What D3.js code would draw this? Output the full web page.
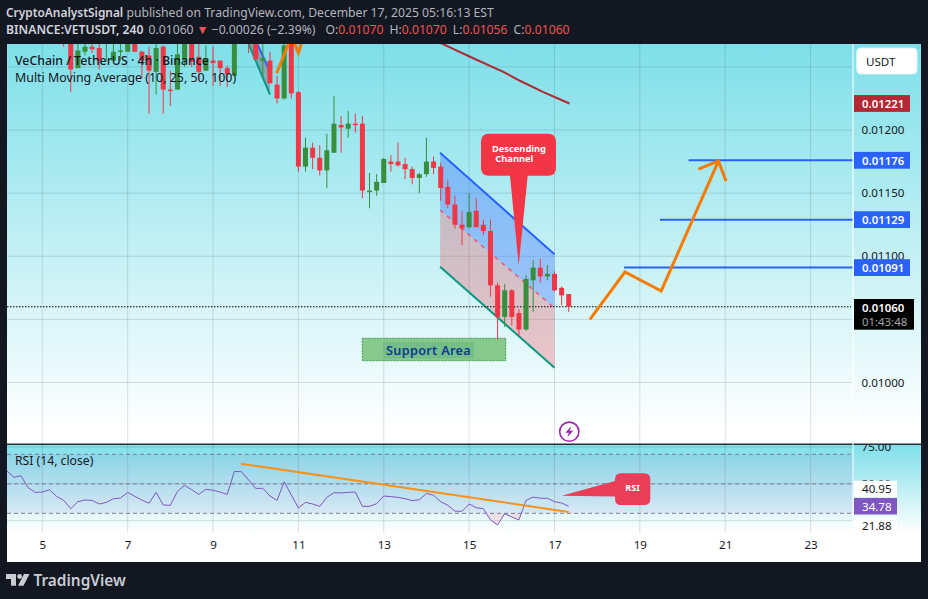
<!DOCTYPE html>
<html>
<head>
<meta charset="utf-8">
<script src="https://cdn.jsdelivr.net/npm/d3@7"></script>
<style>
  html, body { margin: 0; padding: 0; background: #131722; overflow: hidden; }
  svg { display: block; }
  text { font-family: "Noto Sans", sans-serif; }
</style>
</head>
<body>
<div id="chart"></div>
<script>
// prices are kept in ticks of 0.00001 USDT, one value per 4h candle, first candle = day 5.5
var firstDay = 5.5;
var opens = [1285,1280,1249,1262,1266,1265,1270,1255,1262,1262,1275,1262,1259,1246,1266,1232,1232,1255,1275,1258,1247,1255,1255,1249,1243,1285,1290,1272,1255,1255,1236,1225,1272,1230,1171,1186,1178,1168,1182,1204,1201,1205,1205,1151,1152,1158,1175,1175,1173,1169,1162,1165,1175,1171,1155,1141,1125,1123,1136,1125,1120,1077,1052,1073,1055,1042,1081,1091,1084,1086,1075,1070];
var highs = [1290,1290,1275,1275,1272,1272,1285,1272,1272,1280,1280,1263,1266,1270,1267,1247,1272,1280,1280,1272,1267,1266,1255,1251,1280,1295,1300,1285,1270,1262,1243,1270,1280,1231,1194,1190,1188,1197,1227,1211,1215,1213,1211,1166,1165,1178,1180,1190,1178,1171,1166,1194,1179,1174,1160,1148,1136,1150,1146,1129,1129,1079,1078,1074,1058,1085,1097,1098,1093,1088,1076,1070];
var lows = [1266,1230,1249,1259,1261,1248,1255,1255,1255,1262,1262,1241,1213,1228,1213,1219,1232,1250,1250,1239,1247,1235,1235,1234,1243,1272,1261,1256,1242,1237,1221,1224,1225,1167,1167,1169,1164,1154,1182,1182,1194,1198,1146,1138,1148,1158,1167,1171,1161,1157,1150,1163,1165,1144,1138,1122,1109,1122,1123,1117,1068,1034,1044,1045,1037,1041,1056,1079,1081,1072,1061,1056];
var closes = [1275,1248,1263,1266,1264,1255,1280,1262,1263,1275,1262,1255,1247,1265,1232,1231,1260,1275,1254,1246,1257,1253,1249,1244,1275,1290,1272,1256,1257,1237,1225,1267,1229,1171,1186,1178,1168,1184,1205,1202,1205,1204,1152,1152,1159,1177,1173,1172,1169,1162,1165,1175,1170,1154,1141,1125,1122,1135,1123,1120,1077,1052,1073,1052,1042,1082,1091,1084,1086,1073,1069,1060];

// RSI, one value per candle, first value = day 4.17
var rsiFirstDay = 17 - 77 / 6;
var rsiValues = [58.9,54.4,55.5,47.4,44.2,44.4,46.0,41.5,38.8,33.1,37.9,39.0,38.8,36.3,37.4,39.9,40.4,44.2,41.5,39.0,36.8,44.2,35.6,35.4,44.9,48.9,46.0,42.8,46.3,45.6,44.4,42.8,58.4,58.2,52.6,46.9,46.9,41.7,38.8,51.4,42.4,33.6,37.4,36.3,34.7,40.8,44.0,43.8,44.2,44.4,34.7,34.7,36.5,41.7,41.3,40.8,39.9,38.6,39.2,43.5,42.2,37.9,35.4,31.5,31.3,36.3,33.8,33.1,25.5,22.1,29.7,27.5,25.5,38.8,41.0,40.2,40.2,37.9,37.0,34.78];

// moving average and drawings as [day, price tick]
var maLine = [[14.08,1273],[14.39,1268],[15.02,1258],[15.8,1246],[16.19,1239],[16.74,1230],[17.35,1221]];
var channelUpper = [[14.32,1182],[17.0,1101.5]];
var channelMiddle = [[14.32,1136.6],[17.0,1059]];
var channelLower = [[14.32,1091.7],[17.0,1011.7]];
var oldChannelLower = [[9.8,1271],[10.335,1228]];
var oldChannelUpper = [[10.0,1271],[10.335,1246]];
var oldOrange = [[10.49,1245],[10.8,1271]];
var oldOrangeTail = [[10.88,1271],[11.0,1261],[11.09,1271]];
var forecastPath = [[17.83,1050],[18.65,1087.5],[19.5,1072.5],[20.84,1175.4]];
var forecastHead = [[20.37,1169],[20.84,1175.4],[21.02,1159.5]];
var targets = [[20.14,1176],[19.47,1129],[18.63,1091]];
var rsiTrend = [[9.65,63.65],[17.33,30.9]];

var dayTicks = [5,7,9,11,13,15,17,19,21,23];
var priceTicks = [1000,1050,1100,1150,1200,1250];
var priceLabelTicks = [1000,1100,1150,1200];
var rsiTicks = [25,50,75];
var rsiBands = [30,50,70];
var lastPrice = 1060;

var width = 928, height = 599;
var paneLeft = 7, axisLeft = 853, paneRight = 921, mainTop = 44, mainBottom = 444.3, paneBottom = 562, gridBottom = 533;

var x = d3.scaleLinear().domain([5,23]).range([42.3,810.6]);
var y = d3.scaleLinear().domain([1000,1200]).range([382.5,130]);
var yRsi = d3.scaleLinear().domain([30,70]).range([513.3,454.3]);
var fmt = function(v){ return (v/1e5).toFixed(5); };

var svg = d3.select("#chart").append("svg").attr("width",width).attr("height",height);
var defs = svg.append("defs");

function gradient(id, c1, c2){
  var g = defs.append("linearGradient").attr("id",id).attr("x1",0).attr("x2",0).attr("y1",0).attr("y2",1);
  g.append("stop").attr("offset","0%").attr("stop-color",c1);
  g.append("stop").attr("offset","100%").attr("stop-color",c2);
}
gradient("mainBg","#7edfe9","#ffffff");
gradient("rsiBg","#7edfe9","#ffffff");

defs.append("clipPath").attr("id","mainClip").append("rect")
  .attr("x",paneLeft).attr("y",mainTop).attr("width",axisLeft-paneLeft).attr("height",mainBottom-mainTop);
defs.append("clipPath").attr("id","rsiClip").append("rect")
  .attr("x",paneLeft).attr("y",mainBottom).attr("width",axisLeft-paneLeft).attr("height",paneBottom-mainBottom);
defs.append("clipPath").attr("id","rsiAxisClip").append("rect")
  .attr("x",axisLeft).attr("y",mainBottom).attr("width",paneRight-axisLeft).attr("height",paneBottom-mainBottom);
defs.append("clipPath").attr("id","oversold").append("rect")
  .attr("x",paneLeft).attr("y",yRsi(30)).attr("width",axisLeft-paneLeft).attr("height",40);

// backgrounds
svg.append("rect").attr("x",paneLeft).attr("y",mainTop).attr("width",paneRight-paneLeft).attr("height",paneBottom-mainTop).attr("fill","#fff");
svg.append("rect").attr("x",paneLeft).attr("y",mainTop).attr("width",paneRight-paneLeft).attr("height",mainBottom-mainTop-14).attr("fill","url(#mainBg)");
svg.append("rect").attr("x",paneLeft).attr("y",mainBottom).attr("width",paneRight-paneLeft).attr("height",gridBottom-mainBottom).attr("fill","url(#rsiBg)");

// grid
svg.append("g").selectAll("line").data(dayTicks).enter().append("line")
  .attr("x1",function(d){return x(d);}).attr("x2",function(d){return x(d);})
  .attr("y1",mainTop).attr("y2",gridBottom)
  .attr("stroke","rgba(42,46,57,0.14)");
svg.append("g").selectAll("line").data(priceTicks).enter().append("line")
  .attr("x1",paneLeft).attr("x2",axisLeft)
  .attr("y1",function(d){return y(d);}).attr("y2",function(d){return y(d);})
  .attr("stroke","rgba(42,46,57,0.14)");
svg.append("g").attr("clip-path","url(#rsiClip)").selectAll("line").data(rsiTicks).enter().append("line")
  .attr("x1",paneLeft).attr("x2",axisLeft)
  .attr("y1",function(d){return yRsi(d);}).attr("y2",function(d){return yRsi(d);})
  .attr("stroke","rgba(42,46,57,0.14)");

var line = d3.line().x(function(d){return x(d[0]);}).y(function(d){return y(d[1]);});
var lineRsi = d3.line().x(function(d){return x(d[0]);}).y(function(d){return yRsi(d[1]);});

var main = svg.append("g").attr("clip-path","url(#mainClip)");

// channel fills
main.append("path").attr("d",line(channelUpper.concat(channelMiddle.slice().reverse()))+"Z").attr("fill","rgba(41,98,255,0.33)");
main.append("path").attr("d",line(channelMiddle.concat(channelLower.slice().reverse()))+"Z").attr("fill","rgba(242,54,69,0.27)");
main.append("path").attr("d",line(oldChannelUpper.concat(oldChannelLower.slice().reverse()))+"Z").attr("fill","rgba(120,123,134,0.55)");

main.append("path").attr("d",line(channelMiddle)).attr("fill","none").attr("stroke","#f2566a").attr("stroke-width",1.5).attr("stroke-dasharray","4 5");
main.append("path").attr("d",line(channelUpper)).attr("fill","none").attr("stroke","#2962ff").attr("stroke-width",2);
main.append("path").attr("d",line(channelLower)).attr("fill","none").attr("stroke","#089981").attr("stroke-width",2);
main.append("path").attr("d",line(oldChannelUpper)).attr("fill","none").attr("stroke","#2962ff").attr("stroke-width",2);
main.append("path").attr("d",line(oldChannelLower)).attr("fill","none").attr("stroke","#089981").attr("stroke-width",2);

// last price line
main.append("line").attr("x1",paneLeft).attr("x2",axisLeft-2)
  .attr("y1",y(lastPrice)).attr("y2",y(lastPrice))
  .attr("stroke","#000").attr("stroke-width",1).attr("stroke-dasharray","1.5 1.5");

// support area
var support = main.append("g");
support.append("rect").attr("x",362.3).attr("y",338.3).attr("width",143.4).attr("height",22.4)
  .attr("fill","#87c98c").attr("stroke","#3f9c4f").attr("stroke-dasharray","2 1");
support.append("rect").attr("x",383).attr("y",342).attr("width",91).attr("height",16.5).attr("fill","rgba(60,150,120,0.22)");
support.append("text").attr("x",386).attr("y",355).attr("font-size",12.7).attr("font-weight",600).attr("fill","#0d3a93").attr("letter-spacing",0.3).text("Support Area");

// candles
var candles = opens.map(function(o,i){
  return {day:firstDay+i/6, o:o, h:highs[i], l:lows[i], c:closes[i]};
});
var candle = main.append("g").selectAll("g").data(candles).enter().append("g")
  .attr("fill",function(d){return d.c>=d.o ? "#388e3c" : "#f23645";})
  .attr("stroke",function(d){return d.c>=d.o ? "#388e3c" : "#f23645";});
candle.append("line")
  .attr("x1",function(d){return x(d.day);}).attr("x2",function(d){return x(d.day);})
  .attr("y1",function(d){return y(d.h);}).attr("y2",function(d){return y(d.l);});
candle.append("rect").attr("stroke","none")
  .attr("x",function(d){return x(d.day)-2.5;}).attr("width",5)
  .attr("y",function(d){return y(Math.max(d.o,d.c));})
  .attr("height",function(d){return Math.max(1.5,Math.abs(y(d.o)-y(d.c)));});

// moving average
main.append("path").attr("d",line(maLine)).attr("fill","none").attr("stroke","#b22833").attr("stroke-width",2);

// orange lines
main.append("path").attr("d",line(oldOrange)).attr("fill","none").attr("stroke","#f57c00").attr("stroke-width",3);
main.append("path").attr("d",line(oldOrangeTail)).attr("fill","none").attr("stroke","#f57c00").attr("stroke-width",3);

// targets
main.append("g").selectAll("line").data(targets).enter().append("line")
  .attr("x1",function(d){return x(d[0]);}).attr("x2",axisLeft)
  .attr("y1",function(d){return y(d[1]);}).attr("y2",function(d){return y(d[1]);})
  .attr("stroke","#2962ff").attr("stroke-width",2);

main.append("path").attr("d",line(forecastPath)).attr("fill","none").attr("stroke","#f57c00").attr("stroke-width",3);
main.append("path").attr("d",line(forecastHead)).attr("fill","none").attr("stroke","#f57c00").attr("stroke-width",3);

// callout
main.append("path")
  .attr("d","M489,133.7 H548 Q556,133.7 556,141.7 V167.7 Q556,175.7 548,175.7 H527.7 L518.7,265 L510,175.7 H489 Q481,175.7 481,167.7 V141.7 Q481,133.7 489,133.7 Z")
  .attr("fill","#f23645");
main.append("text").attr("x",492).attr("y",152).attr("font-size",9.3).attr("font-weight",700).attr("fill","#fff").text("Descending");
main.append("text").attr("x",495.3).attr("y",162).attr("font-size",9.3).attr("font-weight",700).attr("fill","#fff").text("Channel");

// news icon
var bolt = main.append("g").attr("transform","translate(569.3,431.7)");
bolt.append("circle").attr("r",9.6).attr("fill","#fff").attr("stroke","#9c27b0").attr("stroke-width",1.6);
bolt.append("path").attr("d","M2,-5.5 L-4,1 L-0.5,1 L-2,5.5 L4,-1 L0.5,-1 Z").attr("fill","#9c27b0");

// legends
main.append("text").attr("x",15).attr("y",65).attr("font-size",12.3).attr("font-weight",500).attr("fill","#131722").text("VeChain / TetherUS · 4h · Binance");
main.append("text").attr("x",15).attr("y",82).attr("font-size",12.4).attr("fill","#131722").text("Multi Moving Average (10, 25, 50, 100)");

// RSI pane
var rsiPane = svg.append("g").attr("clip-path","url(#rsiClip)");
rsiPane.append("rect").attr("x",paneLeft).attr("width",axisLeft-paneLeft)
  .attr("y",yRsi(70)).attr("height",yRsi(30)-yRsi(70)).attr("fill","rgba(126,87,194,0.1)");
rsiPane.append("g").selectAll("line").data(rsiBands).enter().append("line")
  .attr("x1",paneLeft).attr("x2",axisLeft)
  .attr("y1",function(d){return yRsi(d);}).attr("y2",function(d){return yRsi(d);})
  .attr("stroke","#857d90").attr("stroke-dasharray","4 3");
var rsiData = rsiValues.map(function(v,i){ return [rsiFirstDay+i/6, v]; });
rsiPane.append("path").attr("clip-path","url(#oversold)")
  .attr("d",d3.area().x(function(d){return x(d[0]);}).y0(yRsi(30)).y1(function(d){return yRsi(d[1]);})(rsiData))
  .attr("fill","rgba(242,54,69,0.12)");
rsiPane.append("path").attr("d",lineRsi(rsiData)).attr("fill","none").attr("stroke","#7e57c2").attr("stroke-width",1);
rsiPane.append("path").attr("d",lineRsi(rsiTrend)).attr("fill","none").attr("stroke","#f7931a").attr("stroke-width",2);
rsiPane.append("path")
  .attr("d","M621,473.3 H644 Q650.3,473.3 650.3,479.6 V498.7 Q650.3,505 644,505 H621 Q615,505 615,498.7 V496.5 L561.7,495.7 L615,481 V479.6 Q615,473.3 621,473.3 Z")
  .attr("fill","#e83e57");
rsiPane.append("text").attr("x",632.5).attr("y",491).attr("text-anchor","middle").attr("font-size",9).attr("font-weight",700).attr("fill","#fff").text("RSI");
rsiPane.append("text").attr("x",15).attr("y",465).attr("font-size",12.2).attr("fill","#131722").text("RSI (14, close)");

// pane borders
svg.append("line").attr("x1",paneLeft).attr("x2",paneRight).attr("y1",mainBottom).attr("y2",mainBottom).attr("stroke","#2a2e39").attr("stroke-width",1.5);
svg.append("line").attr("x1",axisLeft).attr("x2",axisLeft).attr("y1",mainTop).attr("y2",paneBottom).attr("stroke","#fff");

// axes
var yAxis = svg.append("g").attr("transform","translate("+axisLeft+",0)")
  .call(d3.axisRight(y).tickValues(priceLabelTicks).tickFormat(fmt).tickSize(0).tickPadding(8.5));
var rsiAxis = svg.append("g").attr("clip-path","url(#rsiAxisClip)").append("g").attr("transform","translate("+axisLeft+",0)")
  .call(d3.axisRight(yRsi).tickValues(rsiTicks).tickFormat(function(d){return d.toFixed(2);}).tickSize(0).tickPadding(8.5));
var xAxis = svg.append("g").attr("transform","translate(0,541)")
  .call(d3.axisBottom(x).tickValues(dayTicks).tickSize(0).tickPadding(0));
[yAxis,rsiAxis,xAxis].forEach(function(a){
  a.select(".domain").remove();
  a.selectAll("text").attr("fill","#131722").attr("font-size",11.6).style("font-family",'"Noto Sans", sans-serif');
});

// USDT button
svg.append("rect").attr("x",856.7).attr("y",48).attr("width",60.3).attr("height",26).attr("rx",4).attr("fill","#fff").attr("stroke","#e0f3f6");
svg.append("text").attr("x",866).attr("y",65.5).attr("font-size",11.6).attr("fill","#131722").text("USDT");

// price labels
var priceLabels = [
  {v:1221, bg:"#b22833"},
  {v:1176, bg:"#2962ff"},
  {v:1129, bg:"#2962ff"},
  {v:1091, bg:"#2962ff"}
];
var lab = svg.append("g").selectAll("g").data(priceLabels).enter().append("g")
  .attr("transform",function(d){return "translate(854,"+y(d.v)+")";});
lab.append("rect").attr("y",-8.4).attr("width",56).attr("height",16.8).attr("fill",function(d){return d.bg;});
lab.append("text").attr("x",8).attr("y",4.3).attr("font-size",11.4).attr("font-weight",600).attr("fill","#fff").text(function(d){return fmt(d.v);});

svg.append("rect").attr("x",854).attr("y",299).attr("width",60).attr("height",30.7).attr("fill","#000");
svg.append("text").attr("x",862).attr("y",311.5).attr("font-size",11.4).attr("font-weight",600).attr("fill","#fff").text(fmt(lastPrice));
svg.append("text").attr("x",862).attr("y",326).attr("font-size",11.4).attr("fill","#a6a6a6").text("01:43:48");

// RSI labels
var rsiLabels = [
  {t:"40.95", top:480.7, bg:"#fff", fg:"#131722"},
  {t:"34.78", top:498, bg:"#7e57c2", fg:"#fff"},
  {t:"21.88", top:517, bg:"#fff", fg:"#131722"}
];
var rl = svg.append("g").selectAll("g").data(rsiLabels).enter().append("g")
  .attr("transform",function(d){return "translate(854,"+d.top+")";});
rl.append("rect").attr("width",43).attr("height",16.5).attr("fill",function(d){return d.bg;});
rl.append("text").attr("x",8).attr("y",12.6).attr("font-size",11.6).attr("fill",function(d){return d.fg;}).text(function(d){return d.t;});

// header
var hd = svg.append("g").attr("font-size",12.2);
var h1 = hd.append("text").attr("x",6).attr("y",17).attr("fill","#b2b5be");
h1.append("tspan").attr("font-weight",600).attr("font-size",11.9).attr("fill","#d1d4dc").text("CryptoAnalystSignal");
h1.append("tspan").text(" published on TradingView.com, December 17, 2025 05:16:13 EST");
var h2 = hd.append("text").attr("x",6).attr("y",34).attr("fill","#b2b5be");
h2.append("tspan").attr("font-weight",600).attr("fill","#d1d4dc").text("BINANCE:VETUSDT, 240");
h2.append("tspan").attr("dx",5).text("0.01060");
h2.append("tspan").attr("fill","#ef5350").attr("dx",3).text("▼");
h2.append("tspan").attr("dx",3).text("−0.00026 (−2.39%)");
h2.append("tspan").attr("dx",10).text("O:");
h2.append("tspan").attr("fill","#ef5350").text("0.01070");
h2.append("tspan").attr("dx",6).text("H:");
h2.append("tspan").attr("fill","#ef5350").text("0.01070");
h2.append("tspan").attr("dx",6).text("L:");
h2.append("tspan").attr("fill","#ef5350").text("0.01056");
h2.append("tspan").attr("dx",6).text("C:");
h2.append("tspan").attr("fill","#ef5350").text("0.01060");

// footer logo
var logo = svg.append("g").attr("fill","#c9ccd3");
logo.append("path").attr("d","M6,574 H16 V585.7 H11 V579 H6 Z");
logo.append("circle").attr("cx",19.6).attr("cy",576.5).attr("r",2.4);
logo.append("path").attr("d","M24,574 H29.5 L23.5,585.7 H18 Z");
logo.append("text").attr("x",33.5).attr("y",586).attr("font-size",15.4).attr("font-weight",600).text("TradingView");
</script>
</body>
</html>
